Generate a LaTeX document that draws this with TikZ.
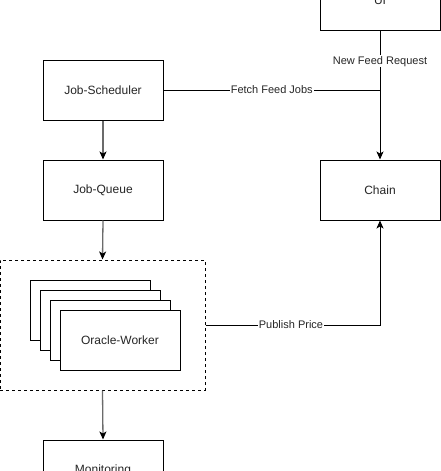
\documentclass[tikz,border=0pt]{standalone}
\usepackage{fontspec}
\setmainfont{Liberation Sans}
\usetikzlibrary{arrows.meta,positioning}
\begin{document}
\begin{tikzpicture}[x=1pt,y=-1pt,
  box/.style={draw=black,line width=1pt,fill=white,minimum width=120pt,minimum height=60pt,inner sep=0pt,font=\fontsize{12}{14}\selectfont,text=black!85},
  lbl/.style={fill=white,inner sep=1pt,font=\fontsize{11}{13}\selectfont,text=black!85},
  conn/.style={line width=1pt,draw=black},
  arr/.style={conn,-{Stealth[length=8pt,width=7pt,inset=2pt]}},
  garr/.style={line width=1.3pt,draw=black!58,-{Stealth[length=8pt,width=7pt,inset=2pt,color=black]}}]
\useasboundingbox (0,0) rectangle (441,471);
\clip (0,0) rectangle (441,471);
\node[box] (ui) at (380,0) {UI};
\node[box] (js) at (103,90) {Job-Scheduler};
\node[box] (jq) at (103,190) {Job-Queue};
\node[box] (chain) at (380,190) {Chain};
\node[draw=black,dashed,line width=1pt,minimum width=205pt,minimum height=130pt,inner sep=0pt] (cont) at (102.5,325) {};
\node[box] (w1) at (90,310) {};
\node[box] (w2) at (100,320) {};
\node[box] (w3) at (110,330) {};
\node[box] (w4) at (120,340) {Oracle-Worker};
\node[box] (mon) at (103,470) {Monitoring};
\coordinate (j) at (380,90);
\coordinate (p) at (380,325);
\draw[arr] (ui.south) -- node[lbl,pos=0.238]{New Feed Request} (chain.north);
\draw[conn] (js.east) -- node[lbl,pos=0.5]{Fetch Feed Jobs} (j);
\draw[garr] (js.south) -- (jq.north);
\draw[garr] (jq.south) -- (cont.north);
\draw[garr] (cont.south) -- (mon.north);
\draw[arr] (cont.east) -- node[lbl,pos=0.49]{Publish Price} (p) -- (chain.south);
\end{tikzpicture}
\end{document}
